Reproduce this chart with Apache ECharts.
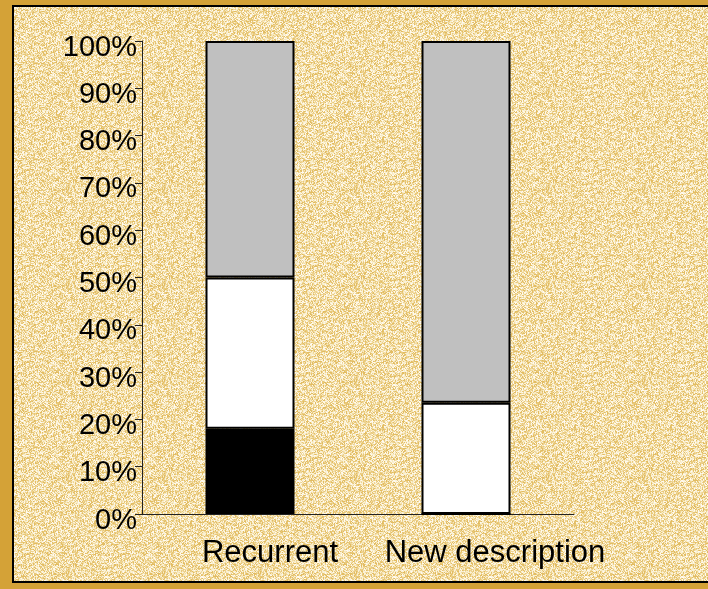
<!DOCTYPE html>
<html>
<head>
<meta charset="utf-8">
<script src="https://cdn.jsdelivr.net/npm/echarts@6/dist/echarts.min.js"></script>
<style>
  html, body { margin: 0; padding: 0; }
  body { width: 708px; height: 589px; background: #d4a237; position: relative; overflow: hidden; }
  #chart {
    position: absolute;
    left: 12px;
    top: 5px;
    width: 696px;
    height: 574px;
    border-top: 2px solid #000;
    border-left: 2px solid #000;
    border-bottom: 2px solid #000;
  }
</style>
</head>
<body>
<div id="chart"></div>
<script>
const categories = ['Recurrent', 'New description']
const blackPart = [18, 0]
const whitePart = [32, 23.5]
const greyPart = [50, 76.5]

// speckled gold paper texture (deterministic hash, purely decorative)
const makeTexture = () => {
  const size = 96
  const cv = document.createElement('canvas')
  cv.width = size
  cv.height = size
  const ctx = cv.getContext('2d')
  const palette = ['#fbf2d8', '#f1dca4', '#e8c878', '#fffaf0', '#edd290', '#f7e8bf', '#e2bc62', '#f9efcf']
  for (let y = 0; y < size; y++) {
    for (let x = 0; x < size; x++) {
      let h = (x * 374761393 + y * 668265263) >>> 0
      h = ((h ^ (h >>> 13)) * 1274126177) >>> 0
      ctx.fillStyle = palette[(h >>> 8) % palette.length]
      ctx.fillRect(x, y, 1, 1)
    }
  }
  return cv.toDataURL()
}

const el = document.getElementById('chart')
el.style.backgroundImage = `url(${makeTexture()})`

const chart = echarts.init(el, null, { renderer: 'canvas' })

const barStyle = (color) => ({
  color,
  borderColor: '#000',
  borderWidth: 2,
})

chart.setOption({
  animation: false,
  backgroundColor: 'transparent',
  textStyle: { fontFamily: 'Liberation Sans, Arial, sans-serif' },
  grid: { left: 128, top: 34, right: 136, bottom: 67 },
  xAxis: {
    type: 'category',
    data: [
      { value: categories[0], textStyle: { padding: [0, 0, 0, 40] } },
      { value: categories[1], textStyle: { padding: [0, 0, 0, 58] } },
    ],
    axisLine: { lineStyle: { color: '#222', width: 1 } },
    axisTick: { length: 5, lineStyle: { color: '#222' } },
    axisLabel: { color: '#000', fontSize: 31, margin: 24, interval: 0 },
  },
  yAxis: {
    type: 'value',
    min: 0,
    max: 100,
    interval: 10,
    axisLine: { show: true, lineStyle: { color: '#222', width: 1 } },
    axisTick: { show: true, length: 7, lineStyle: { color: '#222' } },
    axisLabel: {
      margin: 5,
      formatter: '{t|{value}%}',
      rich: {
        t: { color: '#000', fontSize: 29, padding: [13, 0, 0, 0] },
      },
    },
    splitLine: { show: false },
  },
  series: [
    { name: 'black', type: 'bar', stack: 'all', barWidth: 89, data: blackPart, itemStyle: barStyle('#000') },
    { name: 'white', type: 'bar', stack: 'all', barWidth: 89, data: whitePart, itemStyle: barStyle('#fff') },
    { name: 'grey', type: 'bar', stack: 'all', barWidth: 89, data: greyPart, itemStyle: barStyle('#c0c0c0') },
  ],
})
</script>
</body>
</html>
